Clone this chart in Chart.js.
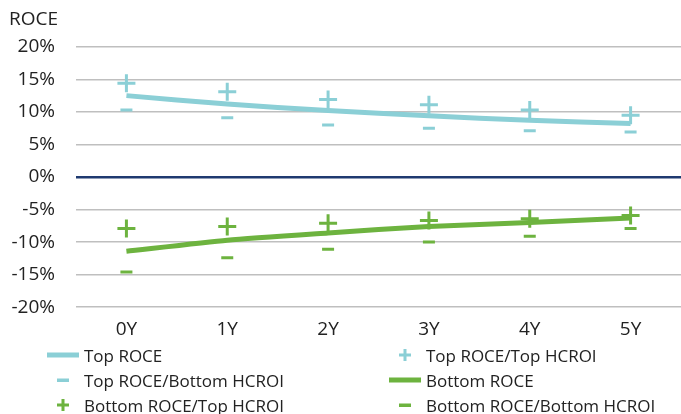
<!DOCTYPE html>
<html>
<head>
<meta charset="utf-8">
<script src="https://cdn.jsdelivr.net/npm/chart.js@4"></script>
<style>
  body { margin: 0; background: #fff; font-family: "Open Sans", sans-serif; overflow: hidden; }
  #wrap { position: relative; width: 681px; height: 414px; }
  #myChart { position: absolute; left: 0; top: 0; }
  #legend { position: absolute; left: 0; top: 343px; width: 681px; }
  .item { position: absolute; height: 24px; display: flex; align-items: center; font-size: 17px; color: #222; }
  .item svg { margin-right: 5px; }
</style>
</head>
<body>
<div id="wrap">
  <canvas id="myChart" width="681" height="348"></canvas>
  <div id="legend"></div>
</div>
<script>
var years = ['0Y', '1Y', '2Y', '3Y', '4Y', '5Y'];
var yTicks = [20, 15, 10, 5, 0, -5, -10, -15, -20];
var topRoce = [12.5, 11.2, 10.2, 9.4, 8.7, 8.2];
var topTopHcroi = [14.4, 13.1, 11.9, 11.1, 10.3, 9.5];
var topBottomHcroi = [10.3, 9.1, 8.0, 7.5, 7.1, 6.9];
var bottomRoce = [-11.4, -9.7, -8.6, -7.6, -7.0, -6.3];
var bottomTopHcroi = [-7.9, -7.6, -7.1, -6.7, -6.4, -5.9];
var bottomBottomHcroi = [-14.6, -12.4, -11.1, -10.0, -9.1, -7.9];

var teal = '#8bcfd6';
var green = '#6db33f';

function marks(label, data, color, style, r) {
    return {
        label: label, data: data, showLine: false,
        pointStyle: style, pointRadius: r, pointHoverRadius: r,
        borderColor: color, backgroundColor: color, pointBorderWidth: 3,
        kind: style
    };
}
function trend(label, data, color) {
    return {
        label: label, data: data, borderColor: color, backgroundColor: color,
        borderWidth: 5, pointRadius: 0, tension: 0.2, kind: 'line-sample'
    };
}

var ctx = document.getElementById('myChart').getContext('2d');
var myChart = new Chart(ctx, {
    type: 'line',
    data: {
        labels: years,
        datasets: [
            trend('Top ROCE', topRoce, teal),
            marks('Top ROCE/Top HCROI', topTopHcroi, teal, 'cross', 9),
            marks('Top ROCE/Bottom HCROI', topBottomHcroi, teal, 'line', 6),
            trend('Bottom ROCE', bottomRoce, green),
            marks('Bottom ROCE/Top HCROI', bottomTopHcroi, green, 'cross', 9),
            marks('Bottom ROCE/Bottom HCROI', bottomBottomHcroi, green, 'line', 6)
        ]
    },
    options: {
        responsive: false,
        animation: false,
        layout: { autoPadding: false, padding: { left: 9, right: 0, top: 0, bottom: 4 } },
        plugins: {
            legend: { display: false },
            tooltip: { enabled: false },
            title: {
                display: true, text: 'ROCE', align: 'start', color: '#222',
                font: { family: 'Open Sans', size: 19, weight: 'normal' },
                padding: { top: 8, bottom: 16 }
            }
        },
        scales: {
            x: {
                offset: true,
                grid: { display: false },
                border: { display: false },
                ticks: { color: '#222', font: { family: 'Open Sans', size: 19 }, padding: 3 }
            },
            y: {
                min: -20, max: 20,
                afterBuildTicks: function(axis) {
                    axis.ticks = yTicks.map(function(v) { return { value: v }; });
                },
                afterFit: function(axis) { axis.width = 67; },
                border: { display: false },
                grid: {
                    drawTicks: false,
                    color: function(c) { return c.tick && c.tick.value === 0 ? '#1f3a70' : '#bfbfbf'; },
                    lineWidth: function(c) { return c.tick && c.tick.value === 0 ? 2.5 : 1.5; }
                },
                ticks: {
                    color: '#222', font: { family: 'Open Sans', size: 19 }, padding: 21,
                    callback: function(v) { return v + '%'; }
                }
            }
        }
    }
});

// two-column legend built from the datasets
var legend = document.getElementById('legend');
var cols = [47, 389];
myChart.data.datasets.forEach(function(ds, i) {
    var el = document.createElement('div');
    el.className = 'item';
    el.style.left = cols[i % 2] + 'px';
    el.style.top = (Math.floor(i / 2) * 25) + 'px';
    var c = ds.borderColor, svg;
    if (ds.kind === 'line-sample') {
        svg = '<svg width="32" height="10"><rect x="0" y="2.5" width="32" height="5" fill="' + c + '"/></svg>';
    } else if (ds.kind === 'cross') {
        svg = '<svg width="32" height="14"><rect x="10" y="5.5" width="12" height="3" fill="' + c + '"/><rect x="14.5" y="1" width="3" height="12" fill="' + c + '"/></svg>';
    } else {
        svg = '<svg width="32" height="10"><rect x="10" y="3.5" width="12" height="3.5" fill="' + c + '"/></svg>';
    }
    el.innerHTML = svg + '<span>' + ds.label + '</span>';
    legend.appendChild(el);
});
</script>
</body>
</html>
